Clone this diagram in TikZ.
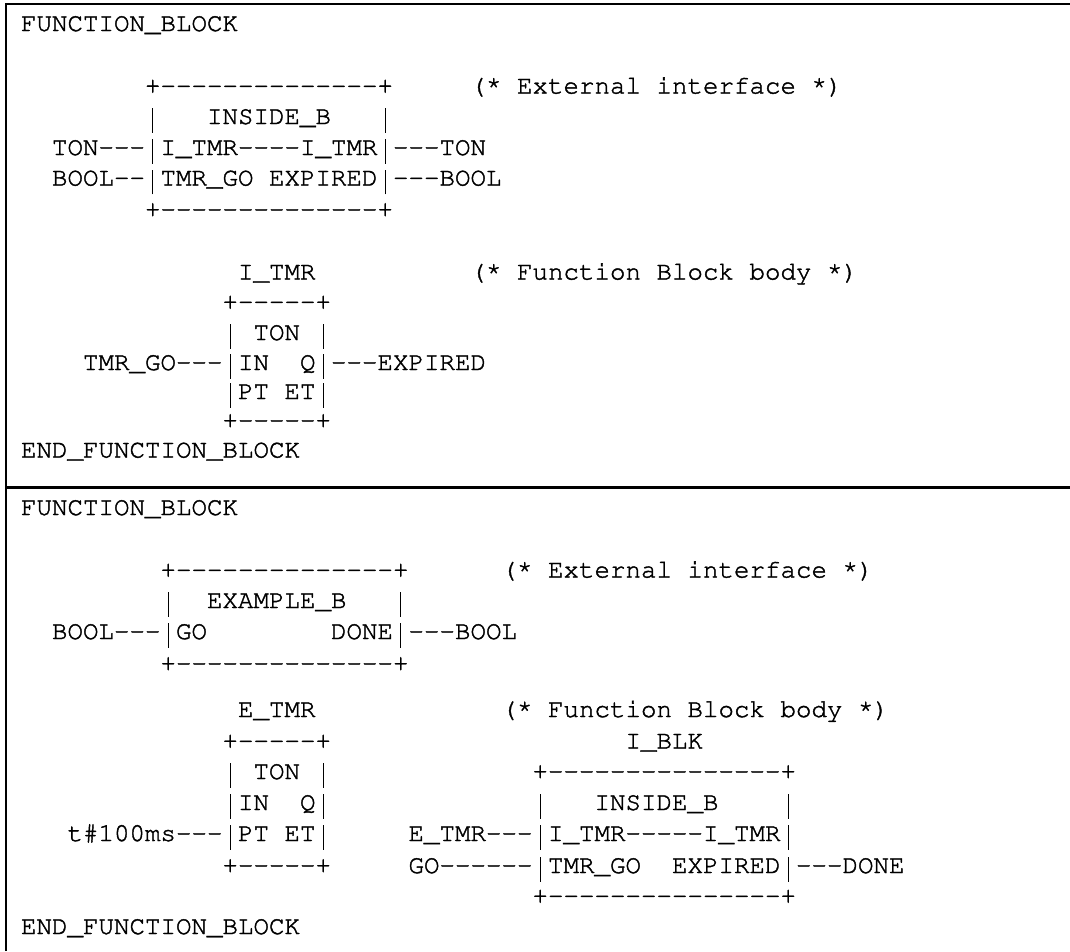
\documentclass[tikz,border=0pt]{standalone}
\usepackage[T1]{fontenc}
\newcommand\cour{\fontfamily{pcr}\fontseries{m}\fontshape{n}\fontsize{19.375pt}{23pt}\selectfont\special{pdf:literal direct 2 Tr 0.3 w}}
\newcommand\dsh[1]{\foreach\dshi in {1,...,#1}{-}}
\newcommand\rast{\raisebox{3.2pt}{*}}
\newcommand\vb{\makebox[11.625pt]{\rule[-6.6pt]{0.85pt}{18.6pt}}}
\newcommand\tline[4]{\node[txt] (#1) at ({21+15.5*#2},{#3+7}) {#4};}
\tikzset{
  txt/.style={inner sep=0pt,outer sep=0pt,anchor=base west,font=\cour,text=black},
  frameline/.style={line width=2.2pt,black}
}
\begin{document}
\begin{tikzpicture}[x=0.75pt,y=-0.75pt]
\useasboundingbox (0,0) rectangle (1070,951);
\fill[white] (0,0) rectangle (1070,951);
% frame
\coordinate (fbl) at (6,951);
\coordinate (ftl) at (6,4);
\coordinate (ftr) at (1070,4);
\coordinate (fsl) at (6,487.5);
\coordinate (fsr) at (1070,487.5);
\draw[frameline] (fbl) -- (ftl) -- (ftr);
\draw[frameline] (fsl) -- (fsr);
% upper block
\tline{uA}{0}{24}{FUNCTION\_BLOCK}
\tline{uB}{8}{86.5}{+\dsh{14}+}
\tline{uBc}{29}{86.5}{(\rast{} External interface \rast)}
\tline{uC1}{8}{117}{\vb}
\tline{uC2}{12}{117}{INSIDE\_B}
\tline{uC3}{23}{117}{\vb}
\tline{uD}{2}{148}{TON\dsh{3}\vb I\_TMR\dsh{4}I\_TMR\vb\dsh{3}TON}
\tline{uE}{2}{178.5}{BOOL\dsh{2}\vb TMR\_GO EXPIRED\vb\dsh{3}BOOL}
\tline{uF}{8}{210}{+\dsh{14}+}
\tline{uG1}{14}{272.5}{I\_TMR}
\tline{uG2}{29}{272.5}{(\rast{} Function Block body \rast)}
\tline{uH}{13}{302.5}{+\dsh{5}+}
\tline{uI1}{13}{333}{\vb}
\tline{uI2}{15}{333}{TON}
\tline{uI3}{19}{333}{\vb}
\tline{uJ1}{4}{363}{TMR\_GO\dsh{3}\vb IN}
\tline{uJ2}{18}{363}{Q\vb\dsh{3}EXPIRED}
\tline{uK}{13}{392}{\vb PT ET\vb}
\tline{uL}{13}{421}{+\dsh{5}+}
\tline{uM}{0}{450.5}{END\_FUNCTION\_BLOCK}
% lower block
\tline{dA}{0}{508}{FUNCTION\_BLOCK}
\tline{dB}{9}{570.5}{+\dsh{14}+}
\tline{dBc}{31}{570.5}{(\rast{} External interface \rast)}
\tline{dC1}{9}{601}{\vb}
\tline{dC2}{12}{601}{EXAMPLE\_B}
\tline{dC3}{24}{601}{\vb}
\tline{dD1}{2}{632}{BOOL\dsh{3}\vb GO}
\tline{dD2}{20}{632}{DONE\vb\dsh{3}BOOL}
\tline{dE}{9}{664}{+\dsh{14}+}
\tline{dF1}{14}{710}{E\_TMR}
\tline{dF2}{31}{710}{(\rast{} Function Block body \rast)}
\tline{dG1}{13}{741.5}{+\dsh{5}+}
\tline{dG2}{39}{741.5}{I\_BLK}
\tline{dH1}{13}{772}{\vb}
\tline{dH2}{15}{772}{TON}
\tline{dH3}{19}{772}{\vb}
\tline{dH4}{33}{772}{+\dsh{15}+}
\tline{dI1}{13}{803}{\vb IN}
\tline{dI2}{18}{803}{Q\vb}
\tline{dI3}{33}{803}{\vb}
\tline{dI4}{37}{803}{INSIDE\_B}
\tline{dI5}{49}{803}{\vb}
\tline{dJ1}{3}{834}{t\#100ms\dsh{3}\vb PT ET\vb}
\tline{dJ2}{25}{834}{E\_TMR\dsh{3}\vb I\_TMR\dsh{5}I\_TMR\vb}
\tline{dK1}{13}{866}{+\dsh{5}+}
\tline{dK2}{25}{866}{GO\dsh{6}\vb TMR\_GO}
\tline{dK3}{42}{866}{EXPIRED\vb\dsh{3}DONE}
\tline{dL}{33}{896.5}{+\dsh{15}+}
\tline{dM}{0}{927}{END\_FUNCTION\_BLOCK}
\end{tikzpicture}
\end{document}
